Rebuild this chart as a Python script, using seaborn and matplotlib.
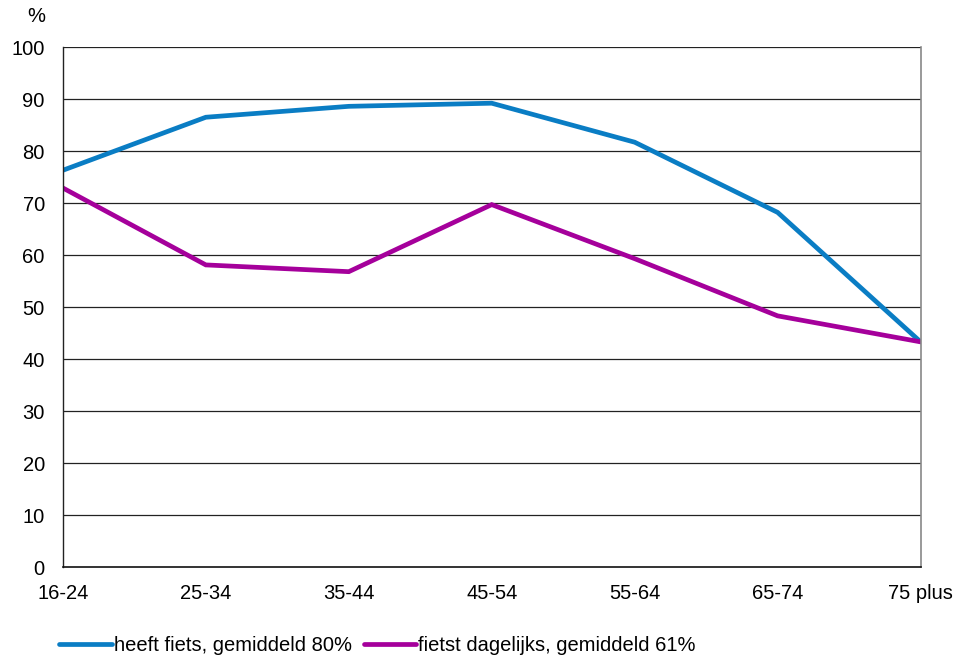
import numpy as np
import pandas as pd
import matplotlib
matplotlib.use('Agg')
import matplotlib.pyplot as plt
import seaborn as sns

# age groups on the x axis
age_groups = ['16-24', '25-34', '35-44', '45-54', '55-64', '65-74', '75 plus']

# percentages
heeft_fiets = [76.3, 86.5, 88.6, 89.2, 81.7, 68.2, 43.3]
fietst_dagelijks = [72.9, 58.1, 56.8, 69.7, 59.3, 48.3, 43.3]

series_names = ['heeft fiets, gemiddeld 80%', 'fietst dagelijks, gemiddeld 61%']
series_colors = ['#0A7DC4', '#A5009B']

y_ticks = list(range(0, 101, 10))

df = pd.DataFrame({
    'leeftijd': age_groups * 2,
    'pct': heeft_fiets + fietst_dagelijks,
    'reeks': [series_names[0]] * len(age_groups) + [series_names[1]] * len(age_groups),
})
df['pos'] = df['leeftijd'].map({a: i for i, a in enumerate(age_groups)})

sns.set_style('white')
plt.rcParams['font.family'] = ['Liberation Sans', 'DejaVu Sans']
plt.rcParams['text.color'] = 'black'

fig = plt.figure(figsize=(9.67, 6.59), dpi=100)
ax = fig.add_axes([0.065, 0.1396, 0.887, 0.789])

sns.lineplot(data=df, x='pos', y='pct', hue='reeks', hue_order=series_names,
             palette=series_colors, linewidth=3.4, ax=ax, legend=False,
             solid_joinstyle='miter')

ax.set_xlim(0, len(age_groups) - 1)
ax.set_ylim(0, 100)
ax.set_xticks(range(len(age_groups)))
ax.set_xticklabels(age_groups)
ax.set_yticks(y_ticks)
ax.set_xlabel('')
ax.set_ylabel('')
ax.tick_params(axis='both', length=0, labelsize=14.5, colors='black')
ax.tick_params(axis='y', pad=13)
ax.tick_params(axis='x', pad=12)

for y in y_ticks[1:]:
    ax.axhline(y, color='#222222', linewidth=0.9, zorder=0)

ax.spines['top'].set_visible(False)
ax.spines['left'].set_color('#222222')
ax.spines['left'].set_linewidth(1.0)
ax.spines['bottom'].set_color('#111111')
ax.spines['bottom'].set_linewidth(1.2)
ax.spines['right'].set_color('#888888')
ax.spines['right'].set_linewidth(1.2)

fig.text(0.038, 0.975, '%', fontsize=14.5, ha='center', va='center', color='black')

handles = [plt.Line2D([], [], color=c, linewidth=3.4) for c in series_colors]
leg = fig.legend(handles, series_names, loc='center left', bbox_to_anchor=(0.053, 0.02),
                 ncol=2, frameon=False, fontsize=14.5, handlelength=2.6,
                 handletextpad=0.1, columnspacing=0.6, borderaxespad=0)
for t in leg.get_texts():
    t.set_color('black')

fig.savefig('out.png', dpi=100)
